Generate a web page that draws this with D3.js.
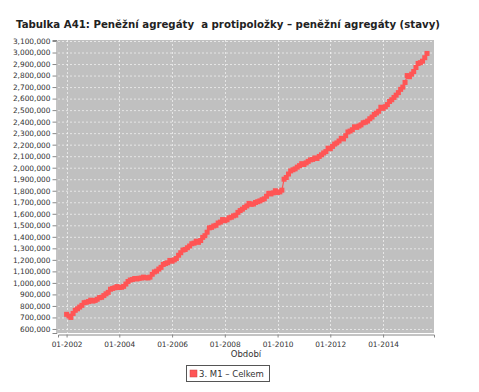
<!DOCTYPE html>
<html><head><meta charset="utf-8">
<script src="https://cdn.jsdelivr.net/npm/d3@7"></script>
<style>body{margin:0;background:#fff;}svg{display:block;}</style>
</head><body>
<svg id="c" width="479" height="392"></svg>
<script>
const title = "Tabulka A41: Peněžní agregáty  a protipoložky – peněžní agregáty (stavy)";
const seriesName = "3. M1 – Celkem";
const xAxisTitle = "Období";
const startYear = 2002, startMonth = 0;
const values = [
 727000,712000,700000,735000,762000,775000,790000,805000,828000,832000,838000,850000,
 842000,848000,858000,872000,875000,890000,905000,918000,945000,952000,958000,968000,
 960000,962000,970000,990000,1012000,1025000,1030000,1038000,1034000,1040000,1042000,1050000,
 1045000,1043000,1050000,1075000,1095000,1102000,1120000,1135000,1160000,1168000,1175000,1195000,
 1188000,1200000,1212000,1240000,1262000,1285000,1290000,1305000,1320000,1340000,1345000,1362000,
 1352000,1368000,1395000,1410000,1440000,1478000,1482000,1494000,1500000,1520000,1528000,1550000,
 1540000,1548000,1565000,1570000,1582000,1588000,1612000,1628000,1640000,1655000,1668000,1690000,
 1682000,1685000,1698000,1705000,1712000,1722000,1730000,1752000,1778000,1772000,1782000,1800000,
 1785000,1790000,1805000,1900000,1915000,1945000,1972000,1982000,1990000,2005000,2018000,2035000,
 2028000,2042000,2055000,2068000,2072000,2085000,2080000,2098000,2112000,2128000,2140000,2170000,
 2165000,2185000,2205000,2215000,2232000,2255000,2250000,2278000,2310000,2318000,2330000,2355000,
 2350000,2362000,2372000,2390000,2395000,2405000,2425000,2440000,2462000,2475000,2490000,2525000,
 2515000,2530000,2548000,2575000,2590000,2610000,2630000,2652000,2680000,2700000,2740000,2800000,
 2790000,2812000,2835000,2870000,2905000,2912000,2925000,2955000,2992000
];
const yTicks = d3.range(600000, 3100001, 100000);
const xTickYears = [2002,2004,2006,2008,2010,2012,2014];

const data = values.map((v,i)=>({date:new Date(startYear, startMonth+i, 1), value:v}));

const svg = d3.select("#c");
const L=58, R=434, T=40, B=333;
const x = d3.scaleTime().domain([new Date(2001,8,4), new Date(2015,11,7)]).range([L,R]);
const y = d3.scaleLinear().domain([565000, 3108700]).range([B,T]);

svg.append("text").attr("x",16).attr("y",28).attr("font-family","DejaVu Sans").attr("font-weight","bold")
  .attr("font-size",10.4).attr("fill","#222").attr("xml:space","preserve")
  .attr("textLength",424).attr("lengthAdjust","spacingAndGlyphs").text(title);

svg.append("rect").attr("x",L).attr("y",T).attr("width",R-L).attr("height",B-T).attr("fill","#c0c0c0");

// gridlines
svg.append("g").selectAll("line").data(yTicks).join("line")
  .attr("x1",L).attr("x2",R).attr("y1",d=>y(d)+0.5).attr("y2",d=>y(d)+0.5)
  .attr("stroke","#fff").attr("stroke-width",0.6).attr("stroke-dasharray","2,2");
svg.append("g").selectAll("line").data(xTickYears).join("line")
  .attr("y1",T).attr("y2",B).attr("x1",d=>Math.round(x(new Date(d,0,1)))+0.5).attr("x2",d=>Math.round(x(new Date(d,0,1)))+0.5)
  .attr("stroke","#fff").attr("stroke-width",0.6).attr("stroke-dasharray","2,2");

// axes
const yAxis = d3.axisLeft(y).tickValues(yTicks).tickFormat(d3.format(",")).tickSize(4).tickPadding(2);
const gy = svg.append("g").attr("transform",`translate(${L-1.5},0)`).call(yAxis);
gy.selectAll("text").attr("font-family","DejaVu Sans").attr("font-size",7.4).attr("fill","#333");
gy.selectAll("line,path").attr("stroke","#888");

const xAxis = d3.axisBottom(x).tickValues(xTickYears.map(yv=>new Date(yv,0,1))).tickFormat(d3.timeFormat("%m-%Y")).tickSize(3).tickPadding(4);
const gx = svg.append("g").attr("transform",`translate(0,${B+1.5})`).call(xAxis);
gx.selectAll("text").attr("font-family","DejaVu Sans").attr("font-size",7.4).attr("fill","#333");
gx.selectAll("line,path").attr("stroke","#888");

svg.append("text").attr("x",(L+R)/2).attr("y",357).attr("text-anchor","middle")
  .attr("font-family","DejaVu Sans").attr("font-size",8.5).attr("fill","#333").text(xAxisTitle);

// series
const col = "#ff5555";
const line = d3.line().x(d=>x(d.date)).y(d=>y(d.value));
svg.append("path").datum(data).attr("d",line).attr("fill","none").attr("stroke",col).attr("stroke-width",1.2);
svg.append("g").selectAll("rect").data(data).join("rect")
  .attr("x",d=>x(d.date)-2.5).attr("y",d=>y(d.value)-2.5).attr("width",5).attr("height",5).attr("fill",col);

// legend
const lg = svg.append("g");
lg.append("rect").attr("x",186.5).attr("y",365.5).attr("width",83).attr("height",16).attr("fill","#fff").attr("stroke","#555");
lg.append("rect").attr("x",190).attr("y",370).attr("width",7).attr("height",7).attr("fill",col).attr("stroke","#c44").attr("stroke-width",0.5);
lg.append("text").attr("x",199).attr("y",377).attr("font-family","DejaVu Sans").attr("font-size",8.5).attr("fill","#333").text(seriesName);
</script>
</body></html>
